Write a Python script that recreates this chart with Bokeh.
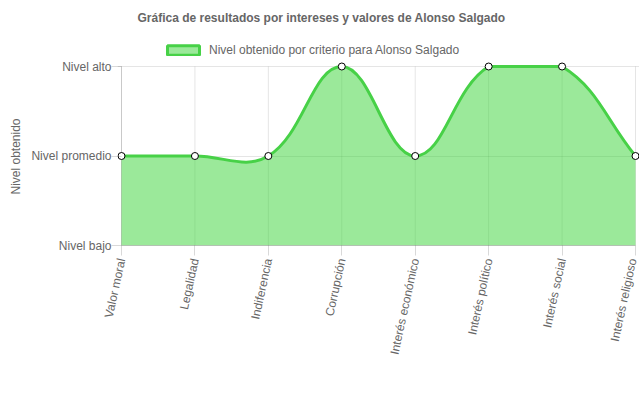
import numpy as np
from bokeh.plotting import figure
from bokeh.models import Range1d, FixedTicker, Legend, LegendItem, Title, ColumnDataSource
from bokeh.embed import file_html
from bokeh.resources import INLINE

# ---------------- data ----------------
categories = ["Valor moral", "Legalidad", "Indiferencia", "Corrupción",
              "Interés económico", "Interés político", "Interés social",
              "Interés religioso"]
values = [2, 2, 2, 3, 2, 3, 3, 2]
level_ticks = [1, 2, 3]
level_names = ["Nivel bajo", "Nivel promedio", "Nivel alto"]
title_text = "Gráfica de resultados por intereses y valores de Alonso Salgado"
series_name = "Nivel obtenido por criterio para Alonso Salgado"
y_title = "Nivel obtenido"

# ---------------- layout (pixels) ----------------
W, H = 639, 396
FL, X0, XN, FR = 117, 121, 635, 639      # frame left, first cat, last cat, frame right
FT, YT, FB = 32, 66, 245                  # frame top, top level, bottom level
FONT = "Liberation Sans"
GREY = "#666666"
FILL = "#37d335"
LINE = "#47d147"

n = len(categories)
ymin, ymax = min(level_ticks), max(level_ticks)
sx = (XN - X0) / (n - 1)
sy = (FB - YT) / (ymax - ymin)

x_range = Range1d(-(X0 - FL) / sx, (n - 1) + (FR - XN) / sx)
y_range = Range1d(ymin, ymax + (YT - FT) / sy)

# ---------------- Chart.js-like spline (tension 0.4, capped) ----------------
xs = np.arange(n, dtype=float)
ys = np.array(values, dtype=float)
t = 0.4
cpp, cpn = [], []
for i in range(n):
    ip = max(i - 1, 0)
    inx = min(i + 1, n - 1)
    d01 = np.hypot((xs[i] - xs[ip]) * sx, (ys[i] - ys[ip]) * sy)
    d12 = np.hypot((xs[inx] - xs[i]) * sx, (ys[inx] - ys[i]) * sy)
    tot = d01 + d12
    s01 = d01 / tot if tot > 0 else 0.0
    s12 = d12 / tot if tot > 0 else 0.0
    fa, fb = t * s01, t * s12
    dx, dy = xs[inx] - xs[ip], ys[inx] - ys[ip]
    pcx = min(max(xs[i] - fa * dx, 0), n - 1)
    pcy = min(max(ys[i] - fa * dy, ymin), ymax)
    ncx = min(max(xs[i] + fb * dx, 0), n - 1)
    ncy = min(max(ys[i] + fb * dy, ymin), ymax)
    cpp.append((float(pcx), float(pcy)))
    cpn.append((float(ncx), float(ncy)))

bz = dict(x0=list(xs[:-1]), y0=list(ys[:-1]), x1=list(xs[1:]), y1=list(ys[1:]),
          cx0=[c[0] for c in cpn[:-1]], cy0=[c[1] for c in cpn[:-1]],
          cx1=[c[0] for c in cpp[1:]], cy1=[c[1] for c in cpp[1:]])

tt = np.linspace(0, 1, 40)
cx_all, cy_all = [], []
for k in range(n - 1):
    P0 = np.array([bz["x0"][k], bz["y0"][k]])
    P1 = np.array([bz["cx0"][k], bz["cy0"][k]])
    P2 = np.array([bz["cx1"][k], bz["cy1"][k]])
    P3 = np.array([bz["x1"][k], bz["y1"][k]])
    seg = ((1 - tt) ** 3)[:, None] * P0 + (3 * (1 - tt) ** 2 * tt)[:, None] * P1 \
        + (3 * (1 - tt) * tt ** 2)[:, None] * P2 + (tt ** 3)[:, None] * P3
    if k > 0:
        seg = seg[1:]
    cx_all.extend(seg[:, 0].tolist())
    cy_all.extend(seg[:, 1].tolist())

# ---------------- figure ----------------
p = figure(width=W, height=H, output_backend="svg", toolbar_location=None,
           x_range=x_range, y_range=y_range,
           min_border_left=FL, min_border_right=W - FR,
           min_border_top=FT, min_border_bottom=H - FB)
p.outline_line_color = None
p.background_fill_color = "white"
p.border_fill_color = "white"

p.title = Title(text=title_text, align="left", offset=20, standoff=16,
                text_font=FONT, text_font_size="12px", text_font_style="bold",
                text_color=GREY)

# grid
p.xgrid.visible = False
p.ygrid.ticker = FixedTicker(ticks=level_ticks)
p.ygrid.grid_line_color = "black"
p.ygrid.grid_line_alpha = 0.1
p.segment(x0=list(xs), y0=[ymin] * n, x1=list(xs), y1=[ymax] * n,
          line_color="black", line_alpha=0.1, line_width=1)
p.segment(x0=[0], y0=[ymin], x1=[0], y1=[ymax],
          line_color="black", line_alpha=0.12, line_width=1)

# area + line + points
p.varea(x=cx_all, y1=[ymin] * len(cx_all), y2=cy_all, fill_color=FILL, fill_alpha=0.5)
p.bezier(source=ColumnDataSource(bz), x0="x0", y0="y0", x1="x1", y1="y1",
         cx0="cx0", cy0="cy0", cx1="cx1", cy1="cy1",
         line_color=LINE, line_width=3)
p.scatter(list(xs), list(ys), size=7, marker="circle", fill_color="white",
          line_color="black", line_width=1)

# axes
xa = p.xaxis[0]
xa.ticker = FixedTicker(ticks=list(range(n)))
xa.major_label_overrides = {i: c for i, c in enumerate(categories)}
xa.major_label_orientation = float(np.deg2rad(77.7))
xa.bounds = (0, n - 1)
xa.axis_line_color = "black"
xa.axis_line_alpha = 0.22
xa.major_tick_out = 10
xa.major_tick_in = 0
xa.major_tick_line_color = "black"
xa.major_tick_line_alpha = 0.15
xa.minor_tick_line_color = None
xa.major_label_standoff = 3
xa.major_label_text_font = FONT
xa.major_label_text_font_size = "12px"
xa.major_label_text_color = GREY

ya = p.yaxis[0]
ya.ticker = FixedTicker(ticks=level_ticks)
ya.major_label_overrides = {v: s for v, s in zip(level_ticks, level_names)}
ya.axis_line_color = None
ya.major_tick_out = 6
ya.major_tick_in = X0 - FL
ya.major_tick_line_color = "black"
ya.major_tick_line_alpha = 0.15
ya.minor_tick_line_color = None
ya.major_label_standoff = 0
ya.major_label_text_font = FONT
ya.major_label_text_font_size = "12px"
ya.major_label_text_color = GREY

p.add_layout(Title(text=y_title, align="left", offset=51, standoff=12,
                   text_font=FONT, text_font_size="12px", text_font_style="normal",
                   text_color=GREY), "left")

# legend (inside the extended frame, above the top level)
nan = np.array([np.nan])
dummy = p.quad(left=nan, right=nan, top=nan, bottom=nan, fill_color=FILL, fill_alpha=0.5,
               line_color=LINE, line_width=3)
legend = Legend(items=[LegendItem(label=series_name, renderers=[dummy])],
                location=(46, 188), orientation="horizontal",
                glyph_width=40, glyph_height=12, label_standoff=6,
                padding=0, margin=0, spacing=0,
                border_line_color=None, background_fill_alpha=0,
                label_text_font=FONT, label_text_font_size="12px",
                label_text_color=GREY)
p.add_layout(legend)

open("out.html", "w").write(file_html(p, INLINE))
